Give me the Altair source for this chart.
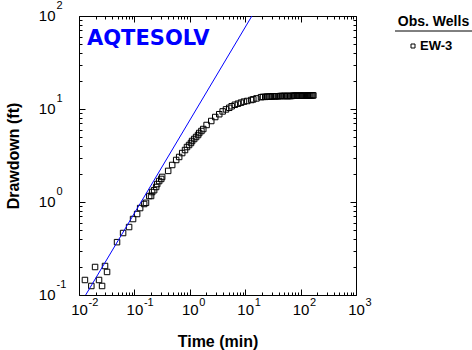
import altair as alt
import pandas as pd

# ---- data ----
time_min = [0.0128, 0.0167, 0.0195, 0.0230, 0.0261, 0.0295, 0.0321, 0.0486, 0.0625, 0.0802,
            0.0946, 0.112, 0.127, 0.150, 0.162, 0.185, 0.200, 0.209, 0.227, 0.247,
            0.258, 0.280, 0.305, 0.317, 0.407, 0.481, 0.568, 0.643, 0.729, 0.820,
            0.890, 0.970, 1.05, 1.10, 1.20, 1.30, 1.41, 1.48, 1.62, 1.75,
            2.01, 2.44, 2.88, 3.40, 3.92, 4.50, 5.15, 5.70, 6.50, 7.40,
            8.40, 9.50, 10.9, 12.9, 14.0, 16.0, 19.3, 21.0, 23.0, 25.0,
            27.0, 29.0, 31.0, 33.0, 35.0, 37.0, 40.0, 43.0, 46.0, 49.0,
            52.0, 55.0, 58.0, 61.0, 65.0, 69.0, 73.0, 77.0, 81.0, 85.0,
            90.0, 95.0, 100.0, 105.0, 110.0, 115.0, 120.0, 126.0, 132.0, 138.0,
            144.0, 150.0, 157.0, 164.0, 170.0]
drawdown_ft = [0.145, 0.125, 0.200, 0.145, 0.125, 0.205, 0.177, 0.370, 0.464, 0.538,
               0.656, 0.743, 0.861, 0.952, 0.980, 1.16, 1.16, 1.28, 1.34, 1.45,
               1.56, 1.68, 1.77, 1.86, 2.16, 2.50, 2.83, 3.05, 3.36, 3.62,
               3.90, 4.10, 4.31, 4.53, 4.76, 5.00, 5.25, 5.52, 5.80, 6.09,
               6.73, 7.43, 8.20, 8.79, 9.42, 9.90, 10.3, 10.7, 11.1, 11.4,
               11.7, 12.0, 12.2, 12.5, 12.7, 13.0, 13.4, 13.5, 13.5, 13.6,
               13.6, 13.6, 13.7, 13.7, 13.7, 13.7, 13.7, 13.8, 13.8, 13.8,
               13.8, 13.8, 13.8, 13.8, 13.8, 13.8, 13.9, 13.9, 13.9, 13.9,
               13.9, 13.9, 13.9, 13.9, 13.9, 13.9, 13.9, 13.9, 13.9, 14.0,
               14.0, 14.0, 14.0, 14.0, 14.0]
well_name = "EW-3"
legend_title = "Obs. Wells"
logo_text = "AQTESOLV"

# unit-slope solution line (blue)
line_time = [0.0132, 13.2]
line_drawdown = [0.1, 100.0]

# axis ticks and labels
x_major = [0.01, 0.1, 1, 10, 100, 1000]
x_exponents = ["-2", "-1", "0", "1", "2", "3"]
y_major = [0.1, 1, 10, 100]
y_exponents = ["-1", "0", "1", "2"]
x_minor = [0.02, 0.03, 0.04, 0.05, 0.06, 0.07, 0.08, 0.09,
           0.2, 0.3, 0.4, 0.5, 0.6, 0.7, 0.8, 0.9,
           2, 3, 4, 5, 6, 7, 8, 9,
           20, 30, 40, 50, 60, 70, 80, 90,
           200, 300, 400, 500, 600, 700, 800, 900]
y_minor = [0.2, 0.3, 0.4, 0.5, 0.6, 0.7, 0.8, 0.9,
           2, 3, 4, 5, 6, 7, 8, 9,
           20, 30, 40, 50, 60, 70, 80, 90]

FONT = "Liberation Sans"


def exp_expr(vals, labs):
    expr = "'" + labs[-1] + "'"
    for v, l in reversed(list(zip(vals[:-1], labs[:-1]))):
        expr = f"datum.value < {v * 3} ? '{l}' : ({expr})"
    return expr


pts = pd.DataFrame({"t": time_min, "s": drawdown_ft})
line_df = pd.DataFrame({"t": line_time, "s": line_drawdown})
one = pd.DataFrame({"well": [well_name], "title": [legend_title], "logo": [logo_text]})

xs = alt.Scale(type="log", domain=[0.01, 1000], nice=False)
ys = alt.Scale(type="log", domain=[0.1, 100], nice=False)


def tick_axis(orient, values, size, **kw):
    base = dict(orient=orient, values=values, tickSize=size, offset=-size, ticks=True,
                tickColor="black", tickWidth=1, grid=False, domain=False,
                labelFlush=False, labelOverlap=False, labelFont=FONT, labelColor="black")
    base.update(kw)
    if "title" not in base:
        base["title"] = ""
    return alt.Axis(**base)


# main points with "10" labels and titles
points = alt.Chart(pts).mark_point(shape="square", filled=False, color="black",
                                   size=30, strokeWidth=1, opacity=1).encode(
    x=alt.X("t:Q", scale=xs, axis=tick_axis(
        "bottom", x_major, 6, labelExpr="'10'", labelFontSize=15, labelPadding=7,
        labelBaseline="top", labelAlign="center",
        title="Time (min)", titleFont=FONT, titleFontSize=16, titleFontWeight="bold",
        titleColor="black", titleY=52, titleBaseline="middle")),
    y=alt.Y("s:Q", scale=ys, axis=tick_axis(
        "left", y_major, 6, labelExpr="'10'", labelFontSize=15, labelPadding=24,
        labelAlign="right", labelBaseline="middle", labelOffset=-1,
        title="Drawdown (ft)", titleFont=FONT, titleFontSize=16, titleFontWeight="bold",
        titleColor="black", titleX=-72, titleBaseline="middle")),
)

# exponent labels
exps = alt.Chart(pts).mark_point(opacity=0).encode(
    x=alt.X("t:Q", scale=xs, axis=tick_axis(
        "bottom", x_major, 6, tickOpacity=0, labelExpr=exp_expr(x_major, x_exponents),
        labelFontSize=11, labelPadding=1, labelBaseline="top", labelAlign="left",
        labelOffset=9)),
    y=alt.Y("s:Q", scale=ys, axis=tick_axis(
        "left", y_major, 6, tickOpacity=0, labelExpr=exp_expr(y_major, y_exponents),
        labelFontSize=11, labelPadding=23, labelBaseline="middle", labelAlign="left",
        labelOffset=-11)),
)

# minor ticks bottom / left
minor_bl = alt.Chart(pts).mark_point(opacity=0).encode(
    x=alt.X("t:Q", scale=xs, axis=tick_axis("bottom", x_minor, 3, labels=False)),
    y=alt.Y("s:Q", scale=ys, axis=tick_axis("left", y_minor, 3, labels=False)),
)

# blue line + major ticks top / right
line = alt.Chart(line_df).mark_line(color="#0000ff", strokeWidth=1, clip=True).encode(
    x=alt.X("t:Q", scale=xs, axis=tick_axis("top", x_major, 6, labels=False)),
    y=alt.Y("s:Q", scale=ys, axis=tick_axis("right", y_major, 6, labels=False)),
)

# minor ticks top / right
minor_tr = alt.Chart(pts).mark_point(opacity=0).encode(
    x=alt.X("t:Q", scale=xs, axis=tick_axis("top", x_minor, 3, labels=False)),
    y=alt.Y("s:Q", scale=ys, axis=tick_axis("right", y_minor, 3, labels=False)),
)

logo = alt.Chart(one).mark_text(font="DejaVu Sans", fontWeight="bold",
                                fontSize=21, color="#0000ff", align="left",
                                baseline="middle").encode(
    text="logo:N", x=alt.value(8), y=alt.value(22.5))

leg_title = alt.Chart(one).mark_text(font=FONT, fontWeight="bold",
                                     fontSize=14, color="black", align="center",
                                     baseline="middle").encode(
    text="title:N", x=alt.value(354.5), y=alt.value(6))
leg_rule = alt.Chart(one).mark_rule(color="black", strokeWidth=1).encode(
    x=alt.value(316), x2=alt.value(393), y=alt.value(15))
leg_sym = alt.Chart(one).mark_point(shape="square", filled=False, color="black",
                                    size=16, strokeWidth=1, opacity=1).encode(
    x=alt.value(334), y=alt.value(30))
leg_label = alt.Chart(one).mark_text(font=FONT, fontWeight="bold",
                                     fontSize=13, color="black", align="left",
                                     baseline="middle").encode(
    text="well:N", x=alt.value(341), y=alt.value(30))

chart = alt.layer(
    points, exps, minor_bl, line, minor_tr,
    logo, leg_title, leg_rule, leg_sym, leg_label
).resolve_axis(
    x="independent", y="independent"
).properties(
    width=277, height=279,
    autosize=alt.AutoSizeParams(type="none"),
    padding={"left": 79, "top": 16, "right": 116, "bottom": 55},
    background="white",
).configure_view(stroke="black", strokeWidth=1)

chart.save("out.html", embed_options={"renderer": "svg", "actions": False})
